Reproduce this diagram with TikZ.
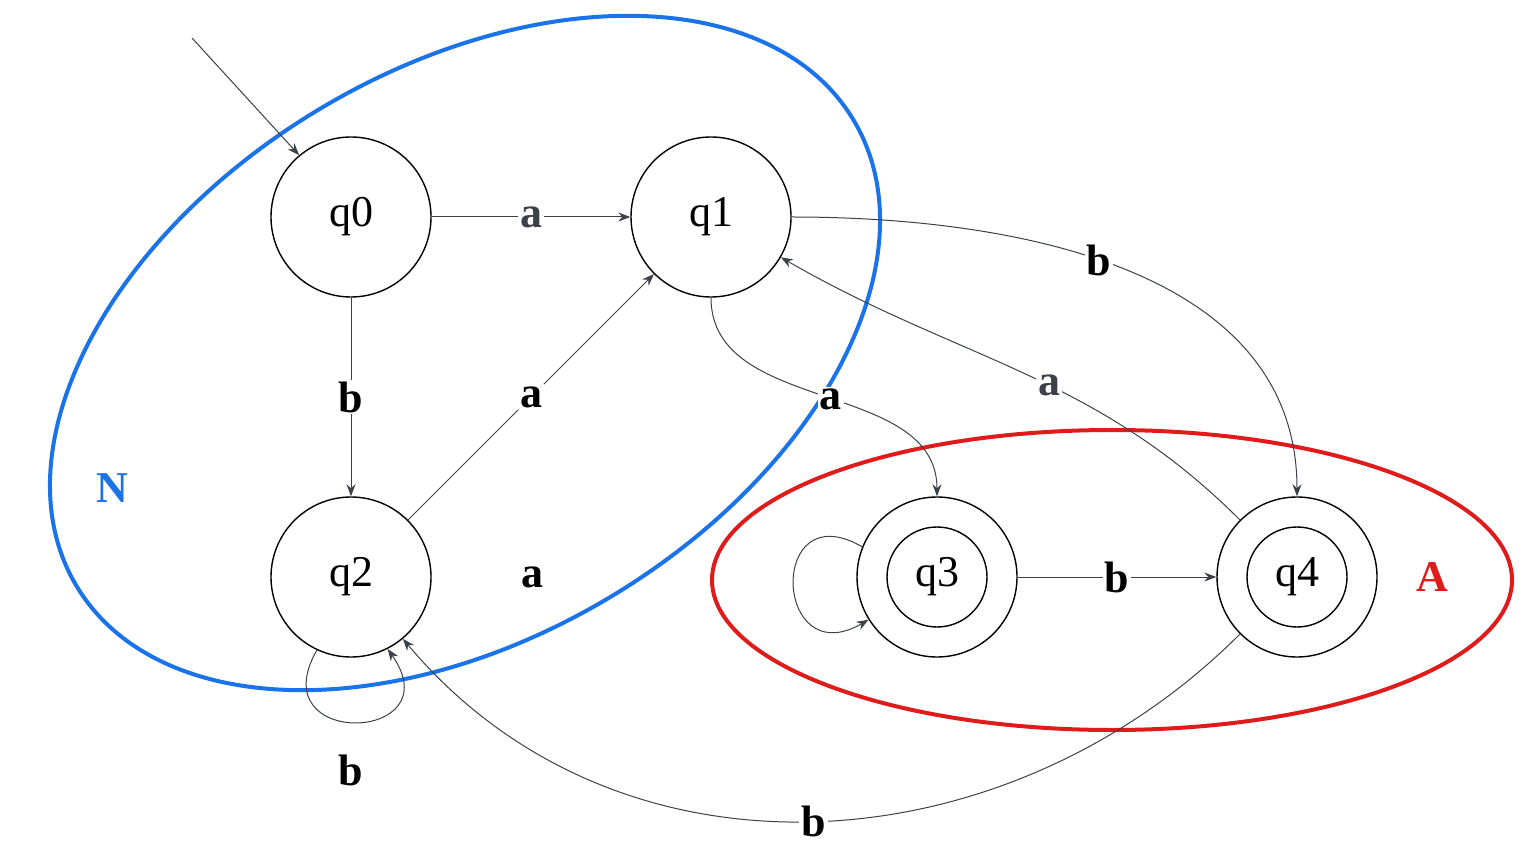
\documentclass[tikz,border=0pt]{standalone}
\usepackage{fontspec}
\setmainfont{Liberation Serif}
\usetikzlibrary{arrows.meta}
\definecolor{edge}{HTML}{3C4048}
\definecolor{blueE}{HTML}{1A73E8}
\definecolor{redE}{HTML}{E01B1B}
\begin{document}
\begin{tikzpicture}[x=0.5pt,y=-0.5pt,
  st/.style={circle,draw,line width=0.7pt,minimum size=80pt,inner sep=0pt,font=\fontsize{22}{24}\selectfont},
  e/.style={draw=edge,line width=0.5pt,-{Stealth[length=6pt,width=4.5pt]}},
  lb/.style={font=\bfseries\fontsize{22}{24}\selectfont,fill=white,inner sep=1pt},
  lg/.style={lb,text=edge}]
\useasboundingbox (0,0) rectangle (1534,854);
\draw[blueE,line width=2pt,rotate around={31:(465,353)}] (465,353) ellipse [x radius=453,y radius=284];
\draw[redE,line width=2pt] (1112,580) ellipse [x radius=400,y radius=150];
\node[st] (q0) at (351,217) {q0};
\node[st] (q1) at (711,217) {q1};
\node[st] (q2) at (351,577) {q2};
\node[circle,draw,line width=0.7pt,minimum size=80pt] (q3) at (937,577) {};
\node[circle,draw,line width=0.7pt,minimum size=50pt,font=\fontsize{22}{24}\selectfont] (q3i) at (937,577) {q3};
\node[circle,draw,line width=0.7pt,minimum size=80pt] (q4) at (1297,577) {};
\node[circle,draw,line width=0.7pt,minimum size=50pt,font=\fontsize{22}{24}\selectfont] (q4i) at (1297,577) {q4};
\coordinate (s) at (192,38);
\node[font=\bfseries\fontsize{22}{24}\selectfont,text=blueE] (N) at (112,488) {N};
\node[font=\bfseries\fontsize{22}{24}\selectfont,text=redE] (A) at (1432,577) {A};
\node[lb] (fa) at (532,577) {a};
\path[e] (s) -- (q0.130);
\path[e] (q0) -- node[lg] {a} (q1);
\path[e] (q0) -- node[lb] {b} (q2);
\path[e] (q2.45) -- node[lb] {a} (q1.225);
\path[e] (q2.-115) .. controls +(120:115) and +(55:115) .. (q2.-63);
\node[lb] (lb2) at (351,770) {b};
\path[e] (q1.south) to[out=-90,in=90] node[lb,pos=0.52] {a} (q3.north);
\path[e] (q4.135) to[out=135,in=-30] node[lg,pos=0.44] {a} (q1.-30);
\path[e] (q1.east) to[out=0,in=90] node[lb,pos=0.45] {b} (q4.north);
\path[e] (q3.east) -- node[lb] {b} (q4.west);
\path[e] (q3.158) .. controls +(-150:110) and +(150:110) .. (q3.-148);
\path[e] (q4.-135) to[out=-135,in=-50,looseness=1.02] node[lb,pos=0.5] {b} (q2.-50);
\end{tikzpicture}
\end{document}
